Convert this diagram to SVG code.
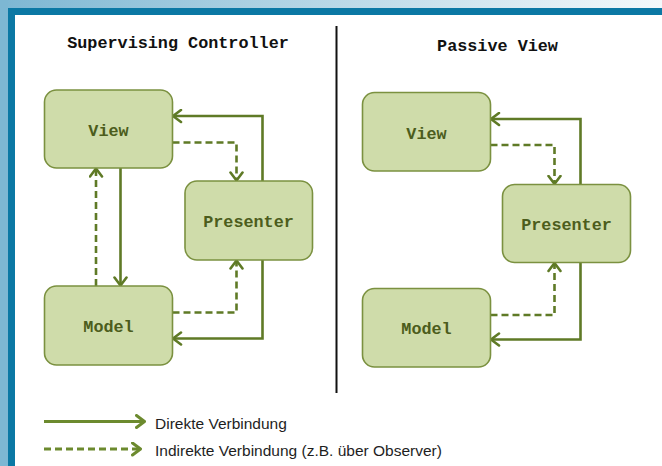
<svg xmlns="http://www.w3.org/2000/svg" width="662" height="466" viewBox="0 0 662 466">
<defs>
<linearGradient id="topg" x1="0" y1="0" x2="1" y2="0">
<stop offset="0" stop-color="#7db7d3"/>
<stop offset="0.5" stop-color="#b9d8e7"/>
<stop offset="1" stop-color="#f4f9fb"/>
</linearGradient>
<marker id="ah" viewBox="0 0 11 15" refX="10" refY="7.5" markerWidth="11" markerHeight="15" markerUnits="userSpaceOnUse" orient="auto">
<path d="M1.5,1.5 L9.5,7.5 L1.5,13.5" fill="none" stroke="#5f7a26" stroke-width="2.6" stroke-linecap="round" stroke-linejoin="round"/>
</marker>
<marker id="ahl" viewBox="0 0 11 15" refX="10" refY="7.5" markerWidth="11" markerHeight="15" markerUnits="userSpaceOnUse" orient="auto">
<path d="M1.5,1.5 L9.5,7.5 L1.5,13.5" fill="none" stroke="#6c8a2e" stroke-width="3" stroke-linecap="round" stroke-linejoin="round"/>
</marker>
</defs>
<style>
.node rect{fill:#cfdcaa;stroke:#7b9140;stroke-width:1.6}
.node text{font-family:"Liberation Mono","Courier New",monospace;font-weight:bold;font-size:16.8px;fill:#4c5d1c;text-anchor:middle}
.title{font-family:"Liberation Mono","Courier New",monospace;font-weight:bold;font-size:16.8px;fill:#111;text-anchor:middle}
.c{fill:none;stroke:#5f7a26;stroke-width:2.6;marker-end:url(#ah)}
.d{stroke-dasharray:7 4}
.leg{fill:none;stroke:#6c8a2e;stroke-width:3;marker-end:url(#ahl)}
.lt{font-family:"Liberation Sans",Arial,sans-serif;font-size:15.5px;fill:#1e1e1e}
</style>
<rect x="0" y="0" width="662" height="466" fill="#ffffff"/>
<rect x="0" y="0" width="662" height="8" fill="url(#topg)"/>
<rect x="0" y="0" width="8" height="466" fill="#7db7d3"/>
<rect x="8" y="8" width="654" height="7" fill="#0b78a4"/>
<rect x="8" y="8" width="7" height="458" fill="#0b78a4"/>

<text class="title" x="178" y="47.5">Supervising Controller</text>
<text class="title" x="497.5" y="51">Passive View</text>
<line x1="336.5" y1="26" x2="336.5" y2="393" stroke="#111" stroke-width="2"/>

<g id="connectors">
<polyline class="c" points="262.5,181 262.5,116 172.5,116"/>
<polyline class="c d" points="172.5,142.5 236.5,142.5 236.5,181"/>
<line class="c" x1="120.5" y1="168" x2="120.5" y2="286"/>
<line class="c d" x1="96" y1="286" x2="96" y2="168"/>
<polyline class="c d" points="172.5,312.5 236.5,312.5 236.5,260"/>
<polyline class="c" points="262.5,260 262.5,338.5 172.5,338.5"/>

<polyline class="c" points="580.5,184.5 580.5,119 490.5,119"/>
<polyline class="c d" points="490.5,145 554.5,145 554.5,184.5"/>
<polyline class="c d" points="490.5,315 554.5,315 554.5,262.5"/>
<polyline class="c" points="580.5,262.5 580.5,339.5 490.5,339.5"/>

<line class="leg" x1="44" y1="421.5" x2="145" y2="421.5"/>
<line class="leg d" x1="44" y1="449" x2="141" y2="449"/>
</g>

<g id="sc-view" class="node"><rect x="44.5" y="90" width="128" height="78" rx="12"/><text x="108.5" y="135.5">View</text></g>
<g id="sc-presenter" class="node"><rect x="185" y="181" width="127.5" height="79" rx="12"/><text x="248.5" y="227">Presenter</text></g>
<g id="sc-model" class="node"><rect x="44.5" y="286" width="128" height="79" rx="12"/><text x="108.5" y="332">Model</text></g>

<g id="pv-view" class="node"><rect x="362.5" y="92.5" width="128" height="78.5" rx="12"/><text x="426.5" y="138.5">View</text></g>
<g id="pv-presenter" class="node"><rect x="502.5" y="184.5" width="128" height="78" rx="12"/><text x="566.5" y="230">Presenter</text></g>
<g id="pv-model" class="node"><rect x="362.5" y="288.5" width="128" height="78.5" rx="12"/><text x="426.5" y="334">Model</text></g>

<g id="legend">
<text class="lt" x="155" y="428.5">Direkte Verbindung</text>
<text class="lt" x="155" y="456">Indirekte Verbindung (z.B. über Observer)</text>
</g>
</svg>
